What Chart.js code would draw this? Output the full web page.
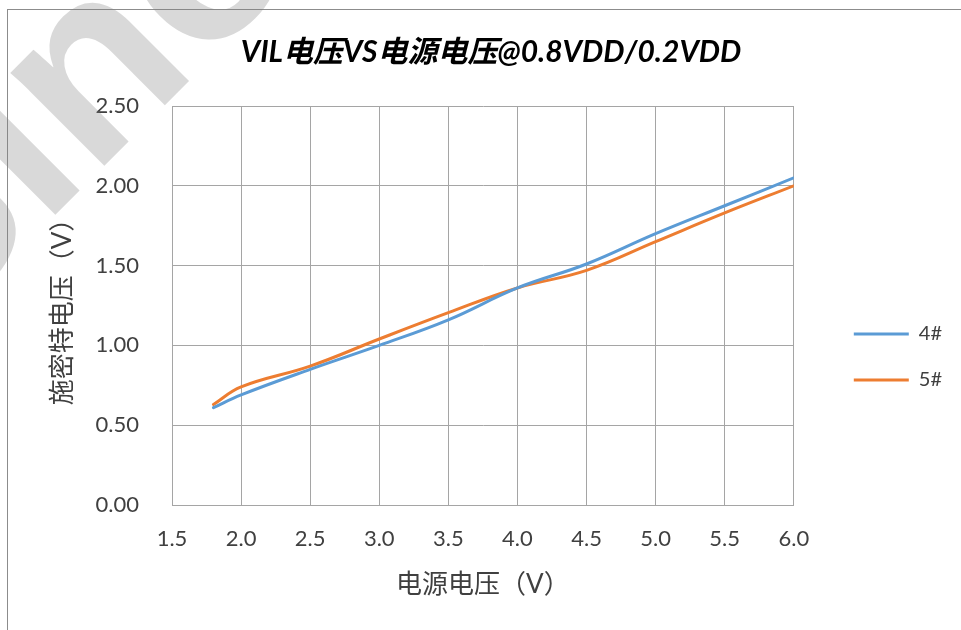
<!DOCTYPE html>
<html>
<head>
<meta charset="utf-8">
<script src="https://cdn.jsdelivr.net/npm/chart.js@4"></script>
<style>
  html, body { margin: 0; padding: 0; background: #fff; }
  #wrap { width: 961px; height: 630px; position: relative; }
</style>
</head>
<body>
<div id="wrap"><canvas id="vilChart" width="961" height="630"></canvas></div>
<script>
// supply voltage (V) and measured VIL for two samples
const supplyVoltage = [1.8, 2.0, 2.5, 3.0, 3.5, 4.0, 4.5, 5.0, 5.5, 6.0];
const vil4 = [0.61, 0.69, 0.85, 1.00, 1.16, 1.36, 1.51, 1.70, 1.875, 2.05];
const vil5 = [0.63, 0.74, 0.87, 1.04, 1.205, 1.36, 1.47, 1.65, 1.83, 2.00];
const seriesNames = ['4#', '5#'];
const chartTitle = 'VIL电压VS电源电压@0.8VDD/0.2VDD';
const xTitle = '电源电压（V）';
const yTitle = '施密特电压（V）';

const GRID = '#a5a5a5';
const TEXT = '#404040';
const FONT = "Lato, 'Noto Sans CJK SC', sans-serif";

function toPoints(xs, ys) {
  return xs.map((x, i) => ({ x: x, y: ys[i] }));
}

// frame + watermark, just decoration
const decorPlugin = {
  id: 'decor',
  beforeDraw(chart) {
    const ctx = chart.ctx;
    ctx.save();
    ctx.strokeStyle = '#8c8c8c';
    ctx.lineWidth = 1;
    ctx.strokeRect(7.5, 9.5, 2000, 2000);
    ctx.restore();
  },
  afterDraw(chart) {
    const ctx = chart.ctx;
    ctx.save();
    ctx.translate(-75, 345);
    ctx.rotate(-Math.PI / 4);
    ctx.fillStyle = 'rgba(128,128,128,0.3)';
    ctx.font = "bold 250px 'Liberation Sans', Arial, sans-serif";
    ctx.fillText('Sino', 0, 0);
    ctx.restore();
  }
};

new Chart(document.getElementById('vilChart'), {
  type: 'line',
  data: {
    datasets: [{
      label: seriesNames[0],
      data: toPoints(supplyVoltage, vil4),
      borderColor: '#5b9bd5',
      backgroundColor: '#5b9bd5',
      borderWidth: 3,
      borderCapStyle: 'round',
      pointRadius: 0,
      tension: 0.4
    }, {
      label: seriesNames[1],
      data: toPoints(supplyVoltage, vil5),
      borderColor: '#ed7d31',
      backgroundColor: '#ed7d31',
      borderWidth: 3,
      borderCapStyle: 'round',
      pointRadius: 0,
      tension: 0.4
    }]
  },
  options: {
    responsive: false,
    animation: false,
    layout: { padding: { left: 30, right: 9, top: 0, bottom: 0 } },
    scales: {
      x: {
        type: 'linear',
        min: 1.5,
        max: 6.0,
        ticks: {
          stepSize: 0.5,
          padding: 21,
          color: TEXT,
          font: { family: FONT, size: 22 },
          callback: v => v.toFixed(1)
        },
        grid: { color: GRID, drawTicks: false },
        border: { color: GRID },
        title: {
          display: true,
          text: xTitle,
          color: TEXT,
          font: { family: FONT, size: 26 },
          padding: { top: 0, bottom: 30 }
        },
        afterFit: s => { s.height = 125; }
      },
      y: {
        min: 0,
        max: 2.5,
        ticks: {
          stepSize: 0.5,
          padding: 33,
          color: TEXT,
          font: { family: FONT, size: 22 },
          callback: v => v.toFixed(2)
        },
        grid: { color: GRID, drawTicks: false },
        border: { color: GRID },
        title: {
          display: true,
          text: yTitle,
          color: TEXT,
          font: { family: FONT, size: 26 },
          padding: { top: 17, bottom: 0 }
        },
        afterFit: s => { s.width = 142; }
      },
      // empty spacer between plot and legend
      gap: {
        position: 'right',
        grid: { display: false },
        border: { display: false },
        ticks: { display: false },
        afterFit: s => { s.width = 34; }
      }
    },
    plugins: {
      title: {
        display: true,
        text: chartTitle,
        color: '#000',
        font: { family: FONT, size: 30, weight: 'bold', style: 'italic' },
        padding: { top: 34, bottom: 36 }
      },
      legend: {
        position: 'right',
        title: { display: true, text: '', font: { size: 10 }, padding: { top: 72, bottom: 0 } },
        labels: {
          boxWidth: 55,
          boxHeight: 0,
          padding: 26,
          color: TEXT,
          font: { family: FONT, size: 20 }
        }
      },
      tooltip: { enabled: false }
    }
  },
  plugins: [decorPlugin]
});
</script>
</body>
</html>
